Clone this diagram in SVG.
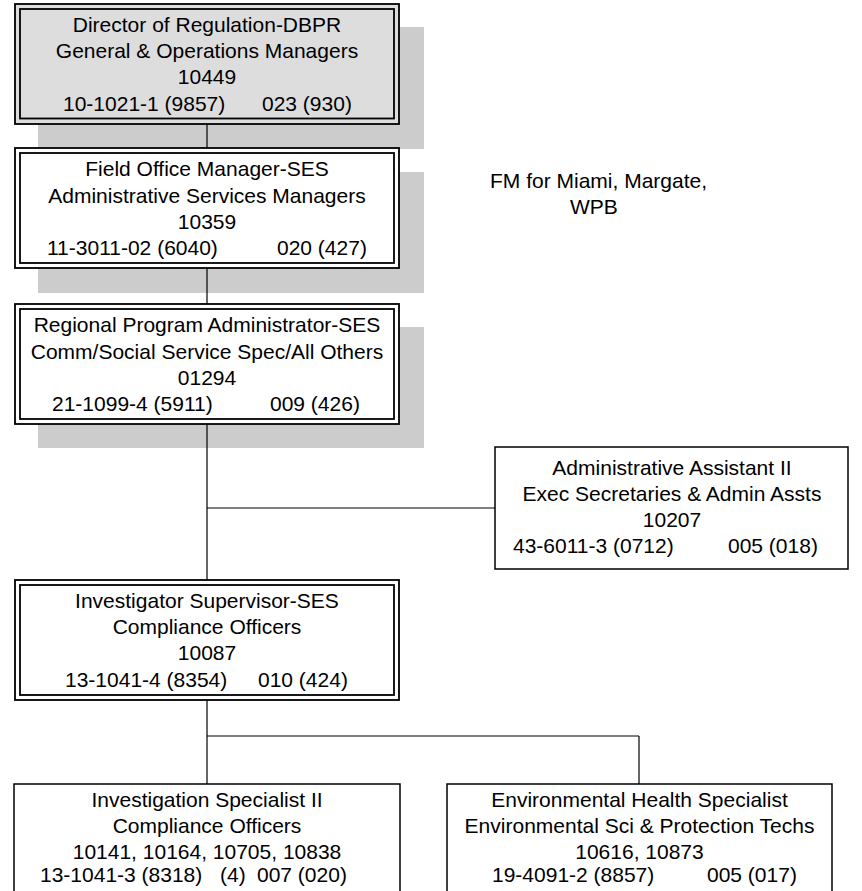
<svg xmlns="http://www.w3.org/2000/svg" width="862" height="891" viewBox="0 0 862 891">
  <style>
    text { font-family: "Liberation Sans", Arial, sans-serif; font-size: 21px; fill: #000; }
    .c { text-anchor: middle; }
    .shadow { fill: #cccccc; stroke: none; }
    .frame { fill: none; stroke: #000; stroke-width: 1.8; }
    .box { fill: #fff; stroke: #000; stroke-width: 1.5; }
    .link { fill: none; stroke: #000; stroke-width: 1.2; }
  </style>

  <!-- drop shadows behind the upper chain of offices -->
  <g id="shadows">
    <rect class="shadow" x="38" y="27" width="386" height="122"/>
    <rect class="shadow" x="38" y="172" width="386" height="121"/>
    <rect class="shadow" x="38" y="327" width="386" height="121"/>
  </g>

  <!-- reporting lines -->
  <g id="connectors">
    <line class="link" x1="207" y1="124" x2="207" y2="148"/>
    <line class="link" x1="207" y1="268" x2="207" y2="304"/>
    <line class="link" x1="207" y1="424" x2="207" y2="580"/>
    <line class="link" x1="207" y1="508" x2="495" y2="508"/>
    <line class="link" x1="207" y1="700" x2="207" y2="784"/>
    <line class="link" x1="207" y1="736" x2="639" y2="736"/>
    <line class="link" x1="639" y1="736" x2="639" y2="784"/>
  </g>

  <g id="director">
    <rect x="15" y="4" width="384" height="120" fill="#dddddd" stroke="#000" stroke-width="1.8"/>
    <rect class="frame" x="20" y="9" width="374" height="109.5"/>
    <text class="c" x="207" y="31.5">Director of Regulation-DBPR</text>
    <text class="c" x="207" y="58">General &amp; Operations Managers</text>
    <text class="c" x="207" y="84">10449</text>
    <text x="63" y="110.5">10-1021-1 (9857)</text>
    <text x="262" y="110.5">023 (930)</text>
  </g>

  <g id="field-office-manager">
    <rect x="15" y="148" width="384" height="120" fill="#fff" stroke="#000" stroke-width="1.8"/>
    <rect class="frame" x="20" y="153" width="374" height="110"/>
    <text class="c" x="207" y="176">Field Office Manager-SES</text>
    <text class="c" x="207" y="202.5">Administrative Services Managers</text>
    <text class="c" x="207" y="228.5">10359</text>
    <text x="47" y="255">11-3011-02 (6040)</text>
    <text x="277" y="255">020 (427)</text>
  </g>

  <g id="fm-note">
    <text x="490" y="188">FM for Miami, Margate,</text>
    <text x="570" y="214">WPB</text>
  </g>

  <g id="regional-program-administrator">
    <rect x="15" y="304" width="384" height="120" fill="#fff" stroke="#000" stroke-width="1.8"/>
    <rect class="frame" x="20" y="309" width="374" height="110"/>
    <text class="c" x="207" y="332">Regional Program Administrator-SES</text>
    <text class="c" x="207" y="358.5">Comm/Social Service Spec/All Others</text>
    <text class="c" x="207" y="384.5">01294</text>
    <text x="52" y="411">21-1099-4 (5911)</text>
    <text x="270" y="411">009 (426)</text>
  </g>

  <g id="administrative-assistant">
    <rect class="box" x="495" y="447" width="353" height="122"/>
    <text class="c" x="672" y="475">Administrative Assistant II</text>
    <text class="c" x="672" y="501">Exec Secretaries &amp; Admin Assts</text>
    <text class="c" x="672" y="527">10207</text>
    <text x="513" y="553">43-6011-3 (0712)</text>
    <text x="728" y="553">005 (018)</text>
  </g>

  <g id="investigator-supervisor">
    <rect x="15" y="580" width="384" height="120" fill="#fff" stroke="#000" stroke-width="1.8"/>
    <rect class="frame" x="20" y="585" width="374" height="110"/>
    <text class="c" x="207" y="607.5">Investigator Supervisor-SES</text>
    <text class="c" x="207" y="633.5">Compliance Officers</text>
    <text class="c" x="207" y="660">10087</text>
    <text x="65" y="686.5">13-1041-4 (8354)</text>
    <text x="258" y="686.5">010 (424)</text>
  </g>

  <g id="investigation-specialist">
    <rect class="box" x="14" y="784" width="386" height="130"/>
    <text class="c" x="207" y="807">Investigation Specialist II</text>
    <text class="c" x="207" y="833">Compliance Officers</text>
    <text class="c" x="207" y="858.5">10141, 10164, 10705, 10838</text>
    <text x="40" y="882">13-1041-3 (8318)</text>
    <text x="220" y="882">(4)</text>
    <text x="257" y="882">007 (020)</text>
  </g>

  <g id="environmental-health-specialist">
    <rect class="box" x="447" y="784" width="385" height="130"/>
    <text class="c" x="639.5" y="807">Environmental Health Specialist</text>
    <text class="c" x="639.5" y="833">Environmental Sci &amp; Protection Techs</text>
    <text class="c" x="639.5" y="858.5">10616, 10873</text>
    <text x="492" y="882">19-4091-2 (8857)</text>
    <text x="707" y="882">005 (017)</text>
  </g>
</svg>
